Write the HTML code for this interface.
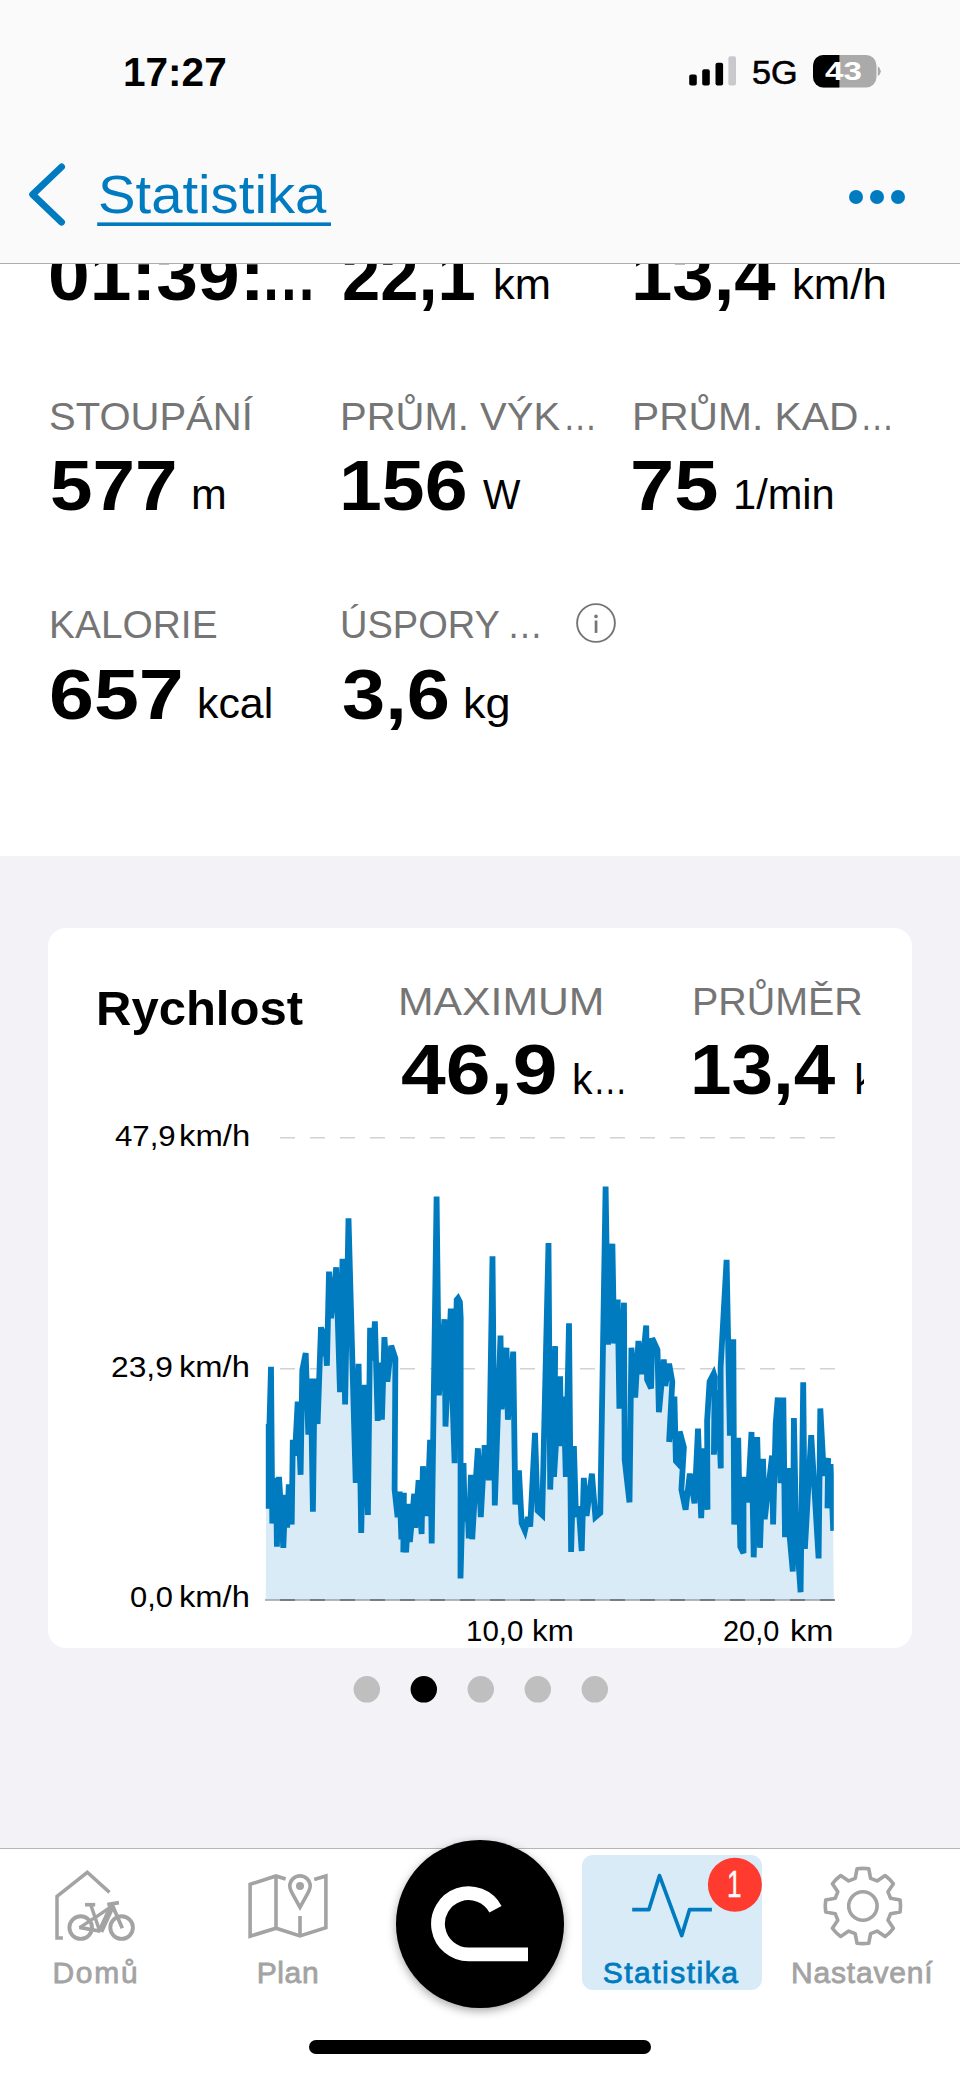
<!DOCTYPE html>
<html lang="cs"><head><meta charset="utf-8"><title>Statistika</title>
<style>
html,body{margin:0;padding:0;}
body{width:960px;height:2079px;position:relative;overflow:hidden;background:#f2f2f7;
font-family:"Liberation Sans",sans-serif;}
.t{position:absolute;white-space:nowrap;line-height:1;transform-origin:0 0;}
.abs{position:absolute;}
svg{position:absolute;left:0;top:0;overflow:visible;}
</style></head><body>

<div class="abs" style="left:0;top:0;width:960px;height:856px;background:#fff;"></div>
<div class="t" style="left:47.89px;top:240.20px;font-size:71px;color:#000;font-weight:700;transform:scaleX(1.0555);">01:39:</div>
<div class="t" style="left:260.50px;top:240.20px;font-size:71px;color:#000;font-weight:700;transform:scaleX(0.7857);">…</div>
<div class="t" style="left:341.56px;top:240.20px;font-size:71px;color:#000;font-weight:700;transform:scaleX(0.9688);">22,1</div>
<div class="t" style="left:492.95px;top:264.32px;font-size:42.5px;color:#000;transform:scaleX(1.0239);">km</div>
<div class="t" style="left:630.81px;top:240.20px;font-size:71px;color:#000;font-weight:700;transform:scaleX(1.0468);">13,4</div>
<div class="t" style="left:791.94px;top:264.32px;font-size:42.5px;color:#000;transform:scaleX(1.0290);">km/h</div>
<div class="t" style="left:49.49px;top:396.56px;font-size:39.5px;color:#757575;transform:scaleX(1.0128);">STOUPÁNÍ</div>
<div class="t" style="left:49.55px;top:449.90px;font-size:71px;color:#000;font-weight:700;transform:scaleX(1.0774);">577</div>
<div class="t" style="left:190.68px;top:474.02px;font-size:42.5px;color:#000;transform:scaleX(1.0097);">m</div>
<div class="t" style="left:340.26px;top:396.56px;font-size:39.5px;color:#757575;transform:scaleX(1.0129);">PRŮM. VÝK</div>
<div class="t" style="left:562.97px;top:396.56px;font-size:39.5px;color:#757575;transform:scaleX(0.8667);">…</div>
<div class="t" style="left:339.16px;top:449.90px;font-size:71px;color:#000;font-weight:700;transform:scaleX(1.0851);">156</div>
<div class="t" style="left:482.70px;top:474.02px;font-size:42.5px;color:#000;transform:scaleX(0.9325);">W</div>
<div class="t" style="left:631.91px;top:396.56px;font-size:39.5px;color:#757575;transform:scaleX(1.0314);">PRŮM. KAD</div>
<div class="t" style="left:859.67px;top:396.56px;font-size:39.5px;color:#757575;transform:scaleX(0.8667);">…</div>
<div class="t" style="left:629.94px;top:449.90px;font-size:71px;color:#000;font-weight:700;transform:scaleX(1.1197);">75</div>
<div class="t" style="left:732.56px;top:474.02px;font-size:42.5px;color:#000;transform:scaleX(0.9787);">1/min</div>
<div class="t" style="left:48.75px;top:605.06px;font-size:39.5px;color:#757575;transform:scaleX(0.9845);">KALORIE</div>
<div class="t" style="left:48.72px;top:659.30px;font-size:71px;color:#000;font-weight:700;transform:scaleX(1.1380);">657</div>
<div class="t" style="left:196.98px;top:683.42px;font-size:42.5px;color:#000;transform:scaleX(1.0079);">kcal</div>
<div class="t" style="left:340.41px;top:605.06px;font-size:39.5px;color:#757575;transform:scaleX(0.9628);">ÚSPORY</div>
<div class="t" style="left:507.15px;top:605.06px;font-size:39.5px;color:#757575;transform:scaleX(0.9100);">…</div>
<div class="t" style="left:341.61px;top:659.30px;font-size:71px;color:#000;font-weight:700;transform:scaleX(1.0923);">3,6</div>
<div class="t" style="left:462.88px;top:683.42px;font-size:42.5px;color:#000;transform:scaleX(1.0609);">kg</div>
<svg width="960" height="2079"><circle cx="596" cy="623" r="18.9" fill="none" stroke="#757575" stroke-width="1.9"/><rect x="594.7" y="620.5" width="2.7" height="12.4" fill="#757575"/><circle cx="596" cy="616.4" r="1.8" fill="#757575"/></svg>
<div class="abs" style="left:0;top:0;width:960px;height:262.6px;background:#fafafb;border-bottom:1px solid #adadad;"></div>
<svg width="960" height="2079">
<rect x="689.2" y="74.6" width="7.6" height="11" rx="2" fill="#000"/>
<rect x="702.2" y="69.2" width="7.6" height="16.4" rx="2" fill="#000"/>
<rect x="715.5" y="62.8" width="7.6" height="22.8" rx="2" fill="#000"/>
<rect x="728.4" y="56.3" width="7.6" height="29.3" rx="2" fill="#c9c9cd"/>
<defs><clipPath id="bat"><rect x="813" y="55" width="63.5" height="32.5" rx="10.5"/></clipPath></defs>
<g clip-path="url(#bat)"><rect x="813" y="55" width="64" height="33" fill="#aaaaaa"/><rect x="813" y="55" width="26.4" height="33" fill="#000"/></g>
<path d="M877.8 66.2 Q880.8 68 880.8 71.2 Q880.8 74.4 877.8 76.2 Z" fill="#aaaaaa"/>
</svg>
<svg width="960" height="2079"><path d="M61.6 166.9 L32.6 194.5 L61.6 222.2" fill="none" stroke="#007bc0" stroke-width="6.8" stroke-linecap="round" stroke-linejoin="round"/><circle cx="856" cy="197" r="7" fill="#007bc0"/><circle cx="877" cy="197" r="7" fill="#007bc0"/><circle cx="898" cy="197" r="7" fill="#007bc0"/><rect x="97.2" y="222.4" width="233.8" height="3.6" fill="#007bc0"/></svg>
<div class="t" style="left:123.20px;top:51.72px;font-size:40.5px;color:#000;font-weight:700;transform:scaleX(1.0014);">17:27</div>
<div class="t" style="left:751.99px;top:56.04px;font-size:33.5px;color:#000;transform:scaleX(1.0206);-webkit-text-stroke:0.6px #000;">5G</div>
<div class="t" style="left:825.30px;top:58.19px;font-size:26px;color:#fff;font-weight:700;transform:scaleX(1.2720);">43</div>
<div class="t" style="left:98.33px;top:168.47px;font-size:54.5px;color:#007bc0;transform:scaleX(1.0327);">Statistika</div>
<div class="abs" style="left:48px;top:928px;width:864px;height:719.5px;background:#fff;border-radius:18px;"></div>
<div class="t" style="left:96.00px;top:983.52px;font-size:49px;color:#000;font-weight:700;transform:scaleX(1.0004);">Rychlost</div>
<div class="t" style="left:398.46px;top:982.26px;font-size:39.5px;color:#757575;transform:scaleX(1.0811);">MAXIMUM</div>
<div class="t" style="left:692.01px;top:982.06px;font-size:39.5px;color:#757575;transform:scaleX(0.9979);">PRŮMĚR</div>
<div class="t" style="left:400.57px;top:1034.40px;font-size:71px;color:#000;font-weight:700;transform:scaleX(1.1329);">46,9</div>
<div class="t" style="left:572.07px;top:1058.52px;font-size:42.5px;color:#000;transform:scaleX(0.9650);">k</div>
<div class="t" style="left:593.24px;top:1058.52px;font-size:42.5px;color:#000;transform:scaleX(0.8125);">…</div>
<div class="t" style="left:690.20px;top:1034.40px;font-size:71px;color:#000;font-weight:700;transform:scaleX(1.0505);">13,4</div>
<div class="abs" style="left:850px;top:1040px;width:13.7px;height:70px;overflow:hidden;"><div class="t" style="left:4.3px;top:18.52px;font-size:42.5px;transform:scaleX(1.05);">km/h</div></div>
<svg width="960" height="2079">
<g stroke="#d2d2d2" stroke-width="1.5" stroke-dasharray="15 15" fill="none">
<line x1="280" y1="1137.7" x2="835" y2="1137.7"/>
<line x1="280" y1="1368.7" x2="835" y2="1368.7"/>
</g>
<defs><clipPath id="cc"><rect x="265.8" y="1140" width="568" height="460"/></clipPath></defs>
<g clip-path="url(#cc)"><path d="M265 1600 L266.3 1424.0 L267.2 1508.6 L271.0 1366.8 L272.3 1523.4 L276.1 1477.9 L276.9 1546.7 L279.0 1476.9 L283.3 1547.8 L285.4 1494.9 L287.1 1527.7 L288.8 1484.3 L291.7 1524.5 L292.8 1439.8 L294.9 1455.7 L297.7 1401.7 L300.6 1474.8 L302.3 1370.0 L305.7 1353.1 L308.3 1434.6 L310.8 1378.5 L312.9 1511.8 L314.6 1378.5 L317.6 1424.0 L321.0 1327.0 L322.6 1356.2 L324.6 1328.7 L326.9 1365.8 L329.0 1271.6 L331.1 1318.1 L336.2 1267.4 L340.0 1392.2 L342.5 1258.9 L345.1 1404.5 L348.5 1218.3 L355.7 1482.8 L358.6 1363.7 L361.2 1533.0 L364.8 1384.8 L367.9 1515.0 L370.1 1327.7 L372.8 1360.5 L374.9 1321.3 L377.7 1420.8 L379.8 1362.6 L381.9 1419.7 L384.4 1337.2 L387.4 1381.6 L391.2 1345.7 L395.4 1358.4 L394.6 1489.6 L397.6 1517.1 L399.7 1491.7 L401.4 1539.3 L403.9 1492.8 L403.3 1552.2 L404.7 1539.3 L406.1 1552.4 L408.9 1503.8 L409.9 1542.1 L414.2 1493.8 L415.2 1527.7 L418.6 1480.1 L421.6 1534.0 L422.9 1466.3 L427.1 1516.0 L430.1 1439.8 L431.7 1543.5 L436.6 1196.5 L438.9 1395.4 L444.4 1319.2 L445.5 1426.5 L450.8 1308.6 L452.1 1385.9 L454.6 1463.1 L456.3 1318.1 L456.7 1299.9 L458.0 1298.3 L459.9 1302.1 L460.7 1318.1 L460.5 1578.5 L463.5 1463.1 L464.8 1521.3 L467.3 1500.2 L468.8 1538.3 L470.9 1474.8 L472.2 1539.3 L474.5 1500.2 L477.9 1448.3 L480.8 1517.1 L484.7 1445.1 L488.9 1480.1 L492.5 1256.3 L494.8 1505.4 L500.5 1335.5 L501.6 1409.2 L506.5 1347.8 L507.9 1419.7 L513.2 1351.6 L515.3 1504.4 L518.9 1470.5 L521.7 1523.4 L524.9 1530.8 L528.0 1517.1 L530.2 1526.6 L535.0 1432.9 L537.6 1510.7 L542.2 1515.0 L548.5 1243.0 L550.2 1489.6 L555.2 1346.1 L554.0 1476.9 L560.1 1376.3 L561.2 1446.2 L563.7 1396.5 L565.8 1476.9 L569.0 1323.4 L571.1 1552.0 L573.9 1446.2 L576.0 1517.1 L578.7 1506.5 L581.7 1551.0 L583.8 1477.9 L586.6 1516.0 L591.9 1473.7 L595.4 1517.1 L600.3 1512.9 L605.6 1186.5 L608.1 1344.6 L612.4 1243.7 L614.1 1343.5 L617.7 1299.5 L619.4 1408.7 L624.0 1302.7 L624.7 1459.9 L629.5 1502.3 L631.4 1347.8 L635.2 1397.5 L638.4 1341.0 L641.6 1374.2 L646.2 1325.6 L647.1 1379.5 L651.1 1388.4 L652.2 1338.3 L657.5 1349.9 L658.9 1412.3 L663.8 1359.4 L665.3 1385.9 L669.1 1363.7 L672.3 1381.6 L669.1 1442.0 L674.4 1396.5 L675.9 1461.0 L679.7 1465.2 L679.7 1431.4 L683.9 1447.2 L681.4 1489.6 L685.6 1509.7 L689.8 1473.7 L694.5 1503.3 L698.0 1428.6 L701.2 1518.1 L703.7 1448.3 L707.5 1509.7 L707.1 1420.8 L709.6 1381.6 L713.7 1373.6 L714.7 1377.0 L713.9 1454.7 L717.7 1390.1 L720.8 1468.4 L720.6 1367.9 L726.6 1259.9 L729.9 1435.6 L733.3 1339.3 L734.2 1524.5 L738.2 1437.7 L740.3 1546.7 L743.5 1553.1 L743.5 1476.9 L747.7 1502.3 L751.5 1432.0 L753.7 1557.3 L757.2 1437.1 L760.0 1547.8 L763.0 1458.9 L764.7 1519.2 L772.1 1455.7 L773.1 1524.5 L775.7 1424.0 L777.8 1397.5 L780.5 1483.2 L783.3 1397.5 L785.0 1537.2 L789.0 1468.0 L788.4 1522.4 L792.8 1571.5 L793.9 1418.0 L796.0 1525.6 L800.6 1592.2 L803.2 1382.3 L804.9 1548.8 L811.2 1435.2 L818.6 1558.4 L820.3 1408.5 L823.9 1475.8 L828.1 1458.3 L827.5 1508.2 L830.7 1464.2 L833.2 1530.8 L834 1600 Z" fill="#d9ebf7" stroke="none"/>
<path d="M266.3 1424.0 L267.2 1508.6 L271.0 1366.8 L272.3 1523.4 L276.1 1477.9 L276.9 1546.7 L279.0 1476.9 L283.3 1547.8 L285.4 1494.9 L287.1 1527.7 L288.8 1484.3 L291.7 1524.5 L292.8 1439.8 L294.9 1455.7 L297.7 1401.7 L300.6 1474.8 L302.3 1370.0 L305.7 1353.1 L308.3 1434.6 L310.8 1378.5 L312.9 1511.8 L314.6 1378.5 L317.6 1424.0 L321.0 1327.0 L322.6 1356.2 L324.6 1328.7 L326.9 1365.8 L329.0 1271.6 L331.1 1318.1 L336.2 1267.4 L340.0 1392.2 L342.5 1258.9 L345.1 1404.5 L348.5 1218.3 L355.7 1482.8 L358.6 1363.7 L361.2 1533.0 L364.8 1384.8 L367.9 1515.0 L370.1 1327.7 L372.8 1360.5 L374.9 1321.3 L377.7 1420.8 L379.8 1362.6 L381.9 1419.7 L384.4 1337.2 L387.4 1381.6 L391.2 1345.7 L395.4 1358.4 L394.6 1489.6 L397.6 1517.1 L399.7 1491.7 L401.4 1539.3 L403.9 1492.8 L403.3 1552.2 L404.7 1539.3 L406.1 1552.4 L408.9 1503.8 L409.9 1542.1 L414.2 1493.8 L415.2 1527.7 L418.6 1480.1 L421.6 1534.0 L422.9 1466.3 L427.1 1516.0 L430.1 1439.8 L431.7 1543.5 L436.6 1196.5 L438.9 1395.4 L444.4 1319.2 L445.5 1426.5 L450.8 1308.6 L452.1 1385.9 L454.6 1463.1 L456.3 1318.1 L456.7 1299.9 L458.0 1298.3 L459.9 1302.1 L460.7 1318.1 L460.5 1578.5 L463.5 1463.1 L464.8 1521.3 L467.3 1500.2 L468.8 1538.3 L470.9 1474.8 L472.2 1539.3 L474.5 1500.2 L477.9 1448.3 L480.8 1517.1 L484.7 1445.1 L488.9 1480.1 L492.5 1256.3 L494.8 1505.4 L500.5 1335.5 L501.6 1409.2 L506.5 1347.8 L507.9 1419.7 L513.2 1351.6 L515.3 1504.4 L518.9 1470.5 L521.7 1523.4 L524.9 1530.8 L528.0 1517.1 L530.2 1526.6 L535.0 1432.9 L537.6 1510.7 L542.2 1515.0 L548.5 1243.0 L550.2 1489.6 L555.2 1346.1 L554.0 1476.9 L560.1 1376.3 L561.2 1446.2 L563.7 1396.5 L565.8 1476.9 L569.0 1323.4 L571.1 1552.0 L573.9 1446.2 L576.0 1517.1 L578.7 1506.5 L581.7 1551.0 L583.8 1477.9 L586.6 1516.0 L591.9 1473.7 L595.4 1517.1 L600.3 1512.9 L605.6 1186.5 L608.1 1344.6 L612.4 1243.7 L614.1 1343.5 L617.7 1299.5 L619.4 1408.7 L624.0 1302.7 L624.7 1459.9 L629.5 1502.3 L631.4 1347.8 L635.2 1397.5 L638.4 1341.0 L641.6 1374.2 L646.2 1325.6 L647.1 1379.5 L651.1 1388.4 L652.2 1338.3 L657.5 1349.9 L658.9 1412.3 L663.8 1359.4 L665.3 1385.9 L669.1 1363.7 L672.3 1381.6 L669.1 1442.0 L674.4 1396.5 L675.9 1461.0 L679.7 1465.2 L679.7 1431.4 L683.9 1447.2 L681.4 1489.6 L685.6 1509.7 L689.8 1473.7 L694.5 1503.3 L698.0 1428.6 L701.2 1518.1 L703.7 1448.3 L707.5 1509.7 L707.1 1420.8 L709.6 1381.6 L713.7 1373.6 L714.7 1377.0 L713.9 1454.7 L717.7 1390.1 L720.8 1468.4 L720.6 1367.9 L726.6 1259.9 L729.9 1435.6 L733.3 1339.3 L734.2 1524.5 L738.2 1437.7 L740.3 1546.7 L743.5 1553.1 L743.5 1476.9 L747.7 1502.3 L751.5 1432.0 L753.7 1557.3 L757.2 1437.1 L760.0 1547.8 L763.0 1458.9 L764.7 1519.2 L772.1 1455.7 L773.1 1524.5 L775.7 1424.0 L777.8 1397.5 L780.5 1483.2 L783.3 1397.5 L785.0 1537.2 L789.0 1468.0 L788.4 1522.4 L792.8 1571.5 L793.9 1418.0 L796.0 1525.6 L800.6 1592.2 L803.2 1382.3 L804.9 1548.8 L811.2 1435.2 L818.6 1558.4 L820.3 1408.5 L823.9 1475.8 L828.1 1458.3 L827.5 1508.2 L830.7 1464.2 L833.2 1530.8" fill="none" stroke="#007bc0" stroke-width="5.8" stroke-linejoin="miter" stroke-miterlimit="4"/></g>
<line x1="265" y1="1600" x2="834" y2="1600" stroke="#99a1a7" stroke-width="1.3"/>
<line x1="280" y1="1600" x2="835" y2="1600" stroke="#646a70" stroke-width="1.3" stroke-dasharray="15 15"/>
</svg>
<div class="t" style="left:115.00px;top:1120.61px;font-size:30px;color:#000;transform:scaleX(1.0398);">47,9</div>
<div class="t" style="left:179.01px;top:1120.61px;font-size:30px;color:#000;transform:scaleX(1.0942);">km/h</div>
<div class="t" style="left:111.44px;top:1351.61px;font-size:30px;color:#000;transform:scaleX(1.0581);">23,9</div>
<div class="t" style="left:179.02px;top:1351.61px;font-size:30px;color:#000;transform:scaleX(1.0893);">km/h</div>
<div class="t" style="left:130.27px;top:1582.31px;font-size:30px;color:#000;transform:scaleX(1.0295);">0,0</div>
<div class="t" style="left:179.02px;top:1582.31px;font-size:30px;color:#000;transform:scaleX(1.0893);">km/h</div>
<div class="t" style="left:466.44px;top:1615.81px;font-size:30px;color:#000;transform:scaleX(0.9820);">10,0</div>
<div class="t" style="left:531.91px;top:1615.81px;font-size:30px;color:#000;transform:scaleX(1.0432);">km</div>
<div class="t" style="left:723.44px;top:1615.81px;font-size:30px;color:#000;transform:scaleX(0.9629);">20,0</div>
<div class="t" style="left:790.03px;top:1615.81px;font-size:30px;color:#000;transform:scaleX(1.0865);">km</div>
<svg width="960" height="2079"><circle cx="366.8" cy="1689.3" r="13.2" fill="#bfbfbf"/><circle cx="423.8" cy="1689.3" r="13.2" fill="#000"/><circle cx="480.8" cy="1689.3" r="13.2" fill="#bfbfbf"/><circle cx="537.8" cy="1689.3" r="13.2" fill="#bfbfbf"/><circle cx="594.8" cy="1689.3" r="13.2" fill="#bfbfbf"/></svg>
<div class="abs" style="left:0;top:1847.6px;width:960px;height:232px;background:#fff;border-top:1.4px solid #b5b5b5;"></div>
<div class="abs" style="left:582.2px;top:1855px;width:179.6px;height:135.2px;background:#d9ebf7;border-radius:11px;"></div>
<svg width="960" height="2079" fill="none" stroke-linecap="butt">
<g stroke="#a3a3a3" stroke-width="3.5" fill="none">
<path d="M62.9 1937.9 H57 V1896.4 L87.3 1872.3 L109.5 1892.4"/>
<circle cx="80.7" cy="1927.6" r="11.3" stroke-width="3.9"/>
<circle cx="121.6" cy="1927.6" r="11.3" stroke-width="3.9"/>
<path d="M85 1904.7 H95.2" stroke-width="3.6"/>
<path d="M90.8 1905 L99.8 1931.2" stroke-width="3.5"/>
<path d="M79.4 1927.4 L100.5 1931.3" stroke-width="3.7"/>
<path d="M79.4 1927.8 L95.5 1917.2" stroke-width="3.2"/>
<path d="M95.5 1917.4 L111.2 1906.6" stroke-width="3.4"/>
<path d="M112.3 1905.5 L100.3 1931.5" stroke-width="6.2"/>
<path d="M111.2 1902.6 L122.3 1928.2" stroke-width="3.7"/>
<path d="M107.3 1904.6 L118.9 1902.6" stroke-width="4"/>
</g>
<g stroke="#a3a3a3" stroke-width="3.6" fill="none" stroke-linejoin="miter">
<path d="M285.6 1879 L276 1876 L250.1 1884.3 V1936.2 L276 1928.2 L300 1935.9 L325.9 1927.8 V1876 L314.2 1879.4"/>
<path d="M276 1876 V1928.2 M300 1916.1 V1935.9"/>
<path d="M300 1907.3 L291.6 1892.2 C290.4 1890 289.8 1888.3 289.8 1886.1 A10.2 10.2 0 0 1 310.2 1886.1 C310.2 1888.3 309.6 1890 308.4 1892.2 Z" stroke-linejoin="miter"/>
<circle cx="300" cy="1886" r="4" fill="#a3a3a3" stroke="none"/>
</g>
<path d="M632.2 1909.7 H648.9 L659.5 1875.6 L681.7 1935.6 L689.5 1909.7 H711.9" stroke="#007bc0" stroke-width="3.7" stroke-linejoin="round"/>
<circle cx="734.9" cy="1884.7" r="27" fill="#ff3b30"/>
</svg>

<svg width="960" height="2079"><path d="M855.2 1878.3 L857.0 1868.8 A37.7 37.7 0 0 1 868.8 1868.8 L870.6 1878.3 L877.1 1880.9 L885.1 1875.5 A37.7 37.7 0 0 1 893.4 1883.8 L888.0 1891.8 L890.6 1898.3 L900.1 1900.1 A37.7 37.7 0 0 1 900.1 1911.9 L890.6 1913.7 L888.0 1920.2 L893.4 1928.2 A37.7 37.7 0 0 1 885.1 1936.5 L877.1 1931.1 L870.6 1933.7 L868.8 1943.2 A37.7 37.7 0 0 1 857.0 1943.2 L855.2 1933.7 L848.7 1931.1 L840.7 1936.5 A37.7 37.7 0 0 1 832.4 1928.2 L837.8 1920.2 L835.2 1913.7 L825.7 1911.9 A37.7 37.7 0 0 1 825.7 1900.1 L835.2 1898.3 L837.8 1891.8 L832.4 1883.8 A37.7 37.7 0 0 1 840.7 1875.5 L848.7 1880.9 Z" fill="none" stroke="#a3a3a3" stroke-width="3.6" stroke-linejoin="round"/><circle cx="862.9" cy="1906" r="14.2" fill="none" stroke="#a3a3a3" stroke-width="3.6"/></svg>
<div class="t" style="left:52.40px;top:1957.90px;font-size:30px;color:#a3a3a3;letter-spacing:1.720px;-webkit-text-stroke:0.8px #a3a3a3;">Domů</div>
<div class="t" style="left:256.70px;top:1957.90px;font-size:30px;color:#a3a3a3;letter-spacing:0.614px;-webkit-text-stroke:0.8px #a3a3a3;">Plan</div>
<div class="t" style="left:602.70px;top:1957.90px;font-size:30px;color:#007bc0;letter-spacing:1.497px;-webkit-text-stroke:0.8px #007bc0;">Statistika</div>
<div class="t" style="left:791.00px;top:1957.90px;font-size:30px;color:#a3a3a3;letter-spacing:0.808px;-webkit-text-stroke:0.8px #a3a3a3;">Nastavení</div>
<div class="t" style="left:726.55px;top:1865.76px;font-size:37.5px;color:#fff;transform:scaleX(0.6957);-webkit-text-stroke:0.4px #fff;">1</div>
<div class="abs" style="left:396.2px;top:1840px;width:167.6px;height:167.6px;border-radius:50%;background:#000;box-shadow:0 3px 10px rgba(0,0,0,0.35);"></div>
<svg width="960" height="2079"><path d="M495.5 1909.2 A30.6 30.6 0 1 0 468.8 1954.4 H528" fill="none" stroke="#fff" stroke-width="13.8"/></svg>
<div class="abs" style="left:309px;top:2040px;width:342px;height:14px;border-radius:7px;background:#000;"></div>
</body></html>
